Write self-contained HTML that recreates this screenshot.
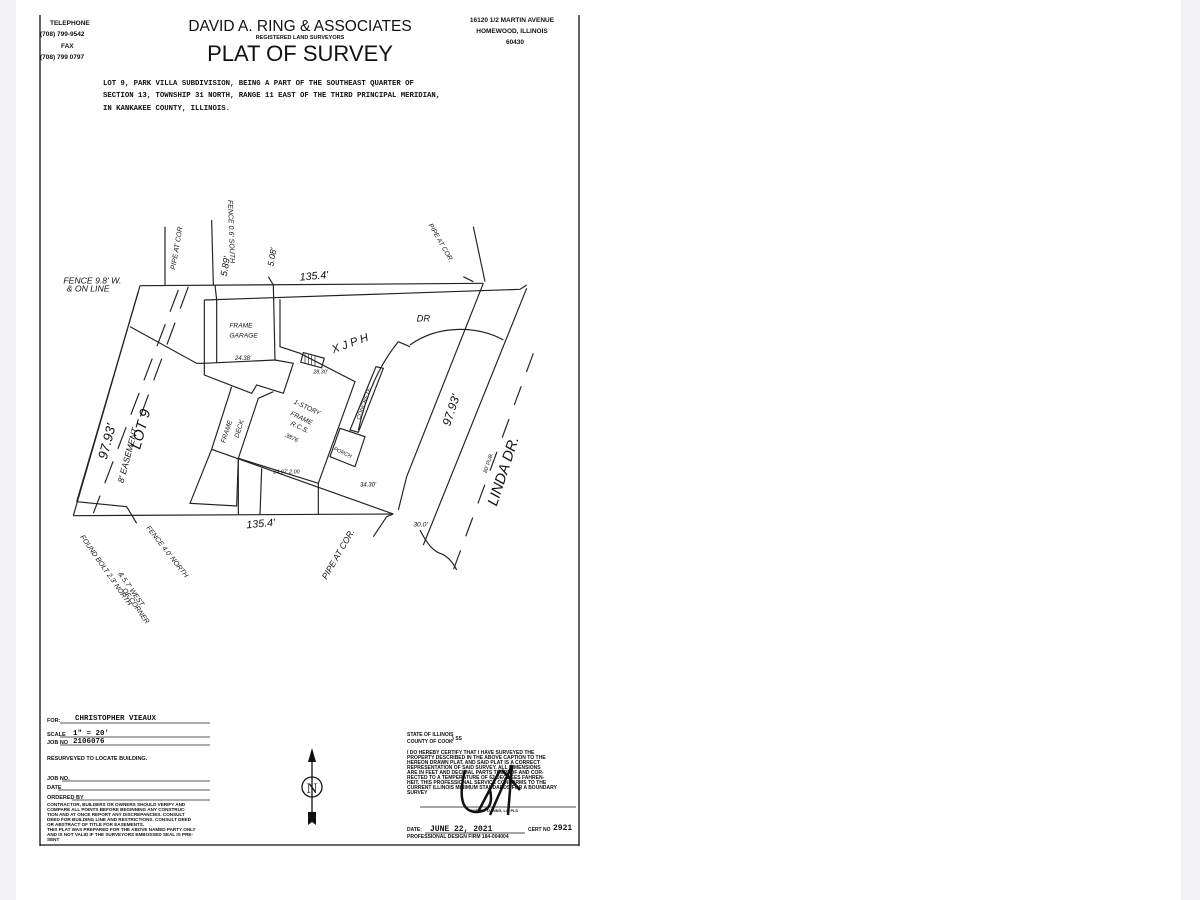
<!DOCTYPE html>
<html><head><meta charset="utf-8"><style>
html,body{margin:0;padding:0;width:1200px;height:900px;background:#fff;overflow:hidden}
.strip{position:absolute;top:0;height:900px;background:#f3f3f5}
svg{position:absolute;left:0;top:0}
text{font-family:"Liberation Sans",sans-serif;fill:#111}
.m{font-family:"Liberation Mono",monospace;font-weight:bold}
.h{font-family:"Liberation Sans",sans-serif;font-style:italic;fill:#222}
</style></head><body>
<div class="strip" style="left:0;width:16px"></div>
<div class="strip" style="left:1181px;width:19px"></div>
<svg width="1200" height="900" viewBox="0 0 1200 900">
<g stroke="#111" stroke-width="1.3" fill="none">
<line x1="40" y1="15" x2="40" y2="846"/>
<line x1="579" y1="15" x2="579" y2="846"/>
<line x1="40" y1="845" x2="579" y2="845"/>
</g>
<text x="50" y="25" font-size="6.5" font-weight="bold">TELEPHONE</text>
<text x="40" y="36" font-size="6.5" font-weight="bold">(708) 799-9542</text>
<text x="61" y="48" font-size="6.5" font-weight="bold">FAX</text>
<text x="40" y="59" font-size="6.5" font-weight="bold">(708) 799 0797</text>
<text x="300" y="31" font-size="15.5" text-anchor="middle">DAVID A. RING &amp; ASSOCIATES</text>
<text x="300" y="39" font-size="5.5" text-anchor="middle" font-weight="bold">REGISTERED LAND SURVEYORS</text>
<text x="300" y="61" font-size="22" text-anchor="middle">PLAT OF SURVEY</text>
<text x="512" y="22" font-size="6.5" text-anchor="middle" font-weight="bold">16120 1/2 MARTIN AVENUE</text>
<text x="512" y="33" font-size="6.5" text-anchor="middle" font-weight="bold">HOMEWOOD, ILLINOIS</text>
<text x="515" y="44" font-size="6.5" text-anchor="middle" font-weight="bold">60430</text>
<text class="m" x="103" y="85" font-size="7.3">LOT 9, PARK VILLA SUBDIVISION, BEING A PART OF THE SOUTHEAST QUARTER OF</text>
<text class="m" x="103" y="97" font-size="7.3">SECTION 13, TOWNSHIP 31 NORTH, RANGE 11 EAST OF THE THIRD PRINCIPAL MERIDIAN,</text>
<text class="m" x="103" y="110" font-size="7.3">IN KANKAKEE COUNTY, ILLINOIS.</text>

<g transform="translate(40,220) scale(0.33333)">
<g stroke="#222" stroke-width="3.5" fill="none">
<line x1="300" y1="197" x2="1330" y2="190"/>
<path d="M493 240 L1440 208 L1460 195"/>
<line x1="300" y1="197" x2="100" y2="887"/>
<line x1="295" y1="215" x2="110" y2="845"/>
<line x1="100" y1="887" x2="1060" y2="882"/>
<path d="M1330 190 L1100 770 L1075 870"/>
<line x1="1460" y1="205" x2="1150" y2="975"/>
<line x1="1480" y1="400" x2="1240" y2="1050" stroke-dasharray="60 45"/>
<line x1="415" y1="210" x2="160" y2="880" stroke-dasharray="70 40"/>
<line x1="445" y1="200" x2="290" y2="620" stroke-dasharray="70 45"/>
<path d="M270 320 L470 430 L493 430"/>
<path d="M110 845 L260 860 L290 910"/>
<path d="M493 240 L493 465 L635 520 L650 495 L730 520 L760 430 L705 420 L493 430"/>
<line x1="530" y1="240" x2="530" y2="428"/>
<line x1="700" y1="195" x2="705" y2="420"/>
<line x1="525" y1="195" x2="530" y2="240"/>
<path d="M720 238 L720 380 L780 400 L945 485 L835 790 L595 715 L655 535 L700 515"/>
<path d="M575 500 L515 688 L450 850 L590 858 L595 715"/>
<line x1="515" y1="688" x2="1060" y2="882"/>
<line x1="595" y1="715" x2="595" y2="885"/>
<line x1="665" y1="745" x2="660" y2="885"/>
<line x1="835" y1="790" x2="835" y2="885"/>
<polygon points="900,625 975,650 945,740 870,710"/>
<polygon points="930,630 955,637 1030,445 1008,440"/>
<path d="M1110 375 C1200 310 1320 320 1390 360"/>
<path d="M1075 365 Q990 470 955 630"/>
<path d="M1075 365 L1110 380"/>
<rect x="785" y="405" width="65" height="30" transform="rotate(15 815 420)"/>
<path d="M795 402 v28 M805 404 v28 M815 407 v28 M825 410 v28" stroke-width="2"/>
<path d="M1140 930 Q1170 990 1200 1000 Q1230 1010 1250 1050"/>
<path d="M1040 890 L1000 950 M1060 882 L1040 890"/>
<path d="M1300 20 L1335 185 M1270 170 L1300 185 M375 20 L375 195 M515 0 L520 195 M685 170 L700 195"/>
</g>
<g class="h" font-size="26">
<text x="780" y="182" font-size="32" transform="rotate(-5 780 182)">135.4'</text>
<text x="620" y="925" font-size="32" transform="rotate(-5 620 925)">135.4'</text>
<text x="70" y="190">FENCE 9.8' W.</text>
<text x="80" y="215">&amp; ON LINE</text>
<text x="568" y="322" font-size="20">FRAME</text>
<text x="568" y="352" font-size="20">GARAGE</text>
<text x="585" y="420" font-size="18">24.38'</text>
<text x="880" y="400" font-size="34" transform="rotate(-20 880 400)">X J P H</text>
<text x="1130" y="305" font-size="28">DR</text>
<text x="760" y="550" font-size="20" transform="rotate(25 760 550)">1-STORY</text>
<text x="750" y="585" font-size="20" transform="rotate(25 750 585)">FRAME</text>
<text x="750" y="615" font-size="20" transform="rotate(25 750 615)">R.C.S.</text>
<text x="735" y="650" font-size="18" transform="rotate(25 735 650)">3876</text>
<text x="880" y="690" font-size="16" transform="rotate(25 880 690)">PORCH</text>
<text x="820" y="460" font-size="16">28.30'</text>
<text x="200" y="720" font-size="40" transform="rotate(-75 200 720)">97.93'</text>
<text x="250" y="790" transform="rotate(-75 250 790)">8' EASEMENT</text>
<text x="300" y="690" font-size="44" transform="rotate(-75 300 690)">LOT 9</text>
<text x="1230" y="620" font-size="36" transform="rotate(-72 1230 620)">97.93'</text>
<text x="1370" y="860" font-size="44" transform="rotate(-72 1370 860)">LINDA DR.</text>
<text x="1340" y="760" font-size="16" transform="rotate(-72 1340 760)">80' PUB.</text>
<text x="555" y="670" font-size="20" transform="rotate(-72 555 670)">FRAME</text>
<text x="595" y="655" font-size="20" transform="rotate(-72 595 655)">DECK</text>
<text x="960" y="600" font-size="18" transform="rotate(-70 960 600)">CONCRETE</text>
<text x="1120" y="920" font-size="20">30.0'</text>
<text x="960" y="800" font-size="18">34.30'</text>
<text x="700" y="760" font-size="16">24.97' 2.00</text>
<text x="860" y="1080" transform="rotate(-60 860 1080)">PIPE AT COR.</text>
<text x="1165" y="15" font-size="20" transform="rotate(60 1165 15)">PIPE AT COR.</text>
<text x="560" y="170" font-size="28" transform="rotate(-80 560 170)">5.89'</text>
<text x="700" y="140" font-size="26" transform="rotate(-80 700 140)">5.08'</text>
</g>
</g>
<g class="h" font-size="7">
<text x="228" y="200" transform="rotate(88 228 200)">FENCE 0.6' SOUTH</text>
<text x="175" y="270" transform="rotate(-80 175 270)">PIPE AT COR</text>
<text x="146" y="528" transform="rotate(52 146 528)">FENCE 4.0' NORTH</text>
<text x="80" y="537" transform="rotate(55 80 537)">FOUND BOLT 2.3' NORTH</text>
<text x="118" y="574" transform="rotate(55 118 574)">&amp; 5.7' WEST</text>
<text x="122" y="590" transform="rotate(55 122 590)">OF CORNER</text>
</g>

<g font-size="5.5" font-weight="bold">
<text x="47" y="722">FOR:</text>
<text x="47" y="736">SCALE</text>
<text x="47" y="744">JOB NO</text>
<text x="47" y="760">RESURVEYED TO LOCATE BUILDING.</text>
<text x="47" y="780">JOB NO.</text>
<text x="47" y="789">DATE</text>
<text x="47" y="799">ORDERED BY</text>
<text x="47" y="806" font-size="4.6">CONTRACTOR, BUILDERS OR OWNERS SHOULD VERIFY AND</text>
<text x="47" y="811" font-size="4.6">COMPARE ALL POINTS BEFORE BEGINNING ANY CONSTRUC-</text>
<text x="47" y="816" font-size="4.6">TION AND AT ONCE REPORT ANY DISCREPANCIES. CONSULT</text>
<text x="47" y="821" font-size="4.6">DEED FOR BUILDING LINE AND RESTRICTIONS. CONSULT DEED</text>
<text x="47" y="826" font-size="4.6">OR ABSTRACT OF TITLE FOR EASEMENTS.</text>
<text x="47" y="831" font-size="4.6">THIS PLAT WAS PREPARED FOR THE ABOVE NAMED PARTY ONLY</text>
<text x="47" y="836" font-size="4.6">AND IS NOT VALID IF THE SURVEYORS EMBOSSED SEAL IS PRE-</text>
<text x="47" y="841" font-size="4.6">SENT</text>
</g>
<text class="m" x="75" y="720" font-size="7.5">CHRISTOPHER VIEAUX</text>
<text class="m" x="73" y="735" font-size="7.5">1" = 20'</text>
<text class="m" x="73" y="743" font-size="7.5">2106076</text>
<g stroke="#222" stroke-width="0.8">
<line x1="60" y1="723" x2="210" y2="723"/>
<line x1="60" y1="737" x2="210" y2="737"/>
<line x1="60" y1="745" x2="210" y2="745"/>
<line x1="62" y1="781" x2="210" y2="781"/>
<line x1="58" y1="790" x2="210" y2="790"/>
<line x1="72" y1="800" x2="210" y2="800"/>
</g>
<g stroke="#111" fill="none" stroke-width="1.3">
<line x1="312" y1="752" x2="312" y2="822"/>
<circle cx="312" cy="787" r="10"/>
</g>
<polygon points="312,748 308,762 316,762" fill="#111"/>
<polygon points="308,812 316,812 316,825 312,822 308,825" fill="#111"/>
<text x="312" y="793" font-size="15" text-anchor="middle" style="font-family:'Liberation Serif',serif">N</text>
<g font-size="5" font-weight="bold">
<text x="407" y="736">STATE OF ILLINOIS</text>
<text x="407" y="743">COUNTY OF COOK</text>
<text x="452" y="740">}  SS</text>
<text x="407" y="754">I DO HEREBY CERTIFY THAT I HAVE SURVEYED THE</text>
<text x="407" y="759">PROPERTY DESCRIBED IN THE ABOVE CAPTION TO THE</text>
<text x="407" y="764">HEREON DRAWN PLAT, AND SAID PLAT IS A CORRECT</text>
<text x="407" y="769">REPRESENTATION OF SAID SURVEY. ALL DIMENSIONS</text>
<text x="407" y="774">ARE IN FEET AND DECIMAL PARTS THEREOF AND COR-</text>
<text x="407" y="779">RECTED TO A TEMPERATURE OF 62 DEGREES FAHREN-</text>
<text x="407" y="784">HEIT. THIS PROFESSIONAL SERVICE CONFORMS TO THE</text>
<text x="407" y="789">CURRENT ILLINOIS MINIMUM STANDARDS FOR A BOUNDARY</text>
<text x="407" y="794">SURVEY</text>
<text x="470" y="812" font-size="3.8">ROBERT D. RING, LS, PLS</text>
<text x="407" y="831">DATE:</text>
<text x="528" y="831">CERT NO</text>
<text x="407" y="838">PROFESSIONAL DESIGN FIRM 184-004004</text>
</g>
<text class="m" x="430" y="831" font-size="8">JUNE 22, 2021</text>
<text class="m" x="553" y="830" font-size="8">2921</text>
<g stroke="#111" fill="none">
<line x1="420" y1="807" x2="576" y2="807" stroke-width="0.8"/>
<line x1="425" y1="833" x2="525" y2="833" stroke-width="0.8"/>
<path d="M465 770 Q455 810 475 812 Q495 812 490 790 M478 812 L500 770 M490 815 L512 765 L508 815 M502 770 L520 790" stroke-width="2.5"/>
</g>
</svg>
</body></html>
